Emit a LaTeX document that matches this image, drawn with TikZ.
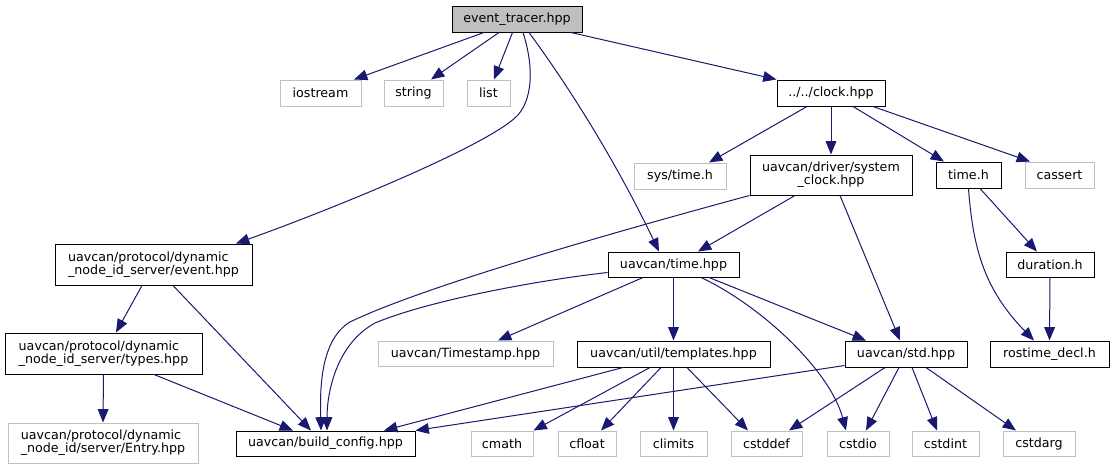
\documentclass[tikz,border=0pt]{standalone}
\usepackage{fontspec}
\setmainfont{DejaVu Sans}
\usetikzlibrary{arrows.meta,calc}
\definecolor{edgeblue}{HTML}{191970}
\definecolor{lgray}{HTML}{BFBFBF}
\newcommand{\mybox}[7]{\node[#6, minimum width={(#4-#2)*0.75pt}, minimum height={(#5-#3)*0.75pt}] (#1) at ({(#2+#4)/2},{(#3+#5)/2}) {#7};}
\begin{document}
\begin{tikzpicture}[x=0.75pt,y=-0.75pt, font=\fontsize{9.5}{10}\selectfont,
 docbox/.style={draw=black, fill=white, inner sep=0pt, line width=0.75pt},
 extbox/.style={draw=lgray, fill=white, inner sep=0pt, line width=0.75pt},
 curbox/.style={draw=black, fill=lgray, inner sep=0pt, line width=0.75pt},
 depedge/.style={draw=edgeblue, line width=0.75pt, -{Triangle[length=10pt,width=8pt]}}]
\fill[white] (0,0) rectangle (1115,469);
\useasboundingbox (0,0) rectangle (1115,469);
\mybox{et}{452}{6}{582}{32}{curbox}{event\_tracer.hpp}
\mybox{iostream}{280}{80}{361}{106}{extbox}{iostream}
\mybox{string}{384}{80}{443}{106}{extbox}{string}
\mybox{list}{467}{80}{510}{106}{extbox}{list}
\mybox{clock}{777}{80}{885}{106}{docbox}{../../clock.hpp}
\mybox{systime}{634}{163}{726}{189}{extbox}{sys/time.h}
\mybox{sysclock}{750}{155}{912}{195}{docbox,align=center}{uavcan/driver/system\\\_clock.hpp}
\mybox{timeh}{936}{162}{1001}{188}{docbox}{time.h}
\mybox{cassert}{1025}{162}{1094}{188}{extbox}{cassert}
\mybox{evhpp}{55}{244}{252}{285}{docbox,align=left}{uavcan/protocol/dynamic\\\_node\_id\_server/event.hpp}
\mybox{utime}{608}{252}{739}{277}{docbox}{uavcan/time.hpp}
\mybox{duration}{1006}{252}{1094}{277}{docbox}{duration.h}
\mybox{types}{5}{333}{202}{374}{docbox,align=left}{uavcan/protocol/dynamic\\\_node\_id\_server/types.hpp}
\mybox{Timestamp}{378}{341}{553}{366}{extbox}{uavcan/Timestamp.hpp}
\mybox{templates}{577}{341}{770}{367}{docbox}{uavcan/util/templates.hpp}
\mybox{std}{845}{341}{967}{367}{docbox}{uavcan/std.hpp}
\mybox{rostime}{990}{341}{1109}{367}{docbox}{rostime\_decl.h}
\mybox{Entry}{8}{423}{198}{463}{extbox,align=left}{uavcan/protocol/dynamic\\\_node\_id/server/Entry.hpp}
\mybox{build}{236}{431}{415}{456}{docbox}{uavcan/build\_config.hpp}
\mybox{cmath}{471}{431}{533}{456}{extbox}{cmath}
\mybox{cfloat}{558}{431}{616}{456}{extbox}{cfloat}
\mybox{climits}{640}{431}{707}{456}{extbox}{climits}
\mybox{cstddef}{731}{431}{802}{456}{extbox}{cstddef}
\mybox{cstdio}{827}{431}{889}{456}{extbox}{cstdio}
\mybox{cstdint}{912}{431}{979}{456}{extbox}{cstdint}
\mybox{cstdarg}{1003}{431}{1075}{456}{extbox}{cstdarg}
% event_tracer
\draw[depedge] ($(et.south)+(-33,0)$) -- ($(iostream.north)+(33.5,0)$);
\draw[depedge] ($(et.south)+(-18,0)$) -- ($(string.north)+(17.5,0)$);
\draw[depedge] ($(et.south)+(-4.5,0)$) -- ($(list.north)+(5.5,0)$);
\draw[depedge] ($(et.south)+(6,0)$) .. controls (532,60) and (535,95) .. (518,115) .. controls (490,145) and (330,210) .. ($(evhpp.north)+(82.5,0)$);
\draw[depedge] ($(et.south)+(12,0)$) .. controls (575,95) and (620,170) .. ($(utime.north)+(-14.5,0)$);
\draw[depedge] ($(et.south)+(54,0)$) -- (clock.north west);
% clock
\draw[depedge] ($(clock.south)+(-24,0)$) -- ($(systime.north)+(29,0)$);
\draw[depedge] (clock.south) -- (sysclock.north);
\draw[depedge] ($(clock.south)+(22,0)$) -- ($(timeh.north)+(-24.5,0)$);
\draw[depedge] ($(clock.south)+(42,0)$) -- ($(cassert.north)+(-29.5,0)$);
% system clock
\draw[depedge] (sysclock.south west) .. controls (600,236) and (420,288) .. (350,322) .. controls (320,340) and (320,390) .. ($(build.north)+(-4.5,0)$);
\draw[depedge] ($(sysclock.south)+(-36,0)$) -- ($(utime.north)+(24.5,0)$);
\draw[depedge] ($(sysclock.south)+(9,0)$) -- ($(std.north)+(-6,0)$);
% time.h
\draw[depedge] (timeh.south) .. controls (973,250) and (985,290) .. ($(rostime.north)+(-15.5,0)$);
\draw[depedge] ($(timeh.south)+(11.5,0)$) -- ($(duration.north)+(-13,0)$);
\draw[depedge] (duration.south) -- (rostime.north);
% event.hpp
\draw[depedge] ($(evhpp.south)+(-11.5,0)$) -- ($(types.north)+(12.5,0)$);
\draw[depedge] ($(evhpp.south)+(19.5,0)$) -- ($(build.north)+(-14.5,0)$);
% types
\draw[depedge] (types.south) -- (Entry.north);
\draw[depedge] ($(types.south)+(50.5,0)$) -- ($(build.north)+(-32.5,0)$);
% uavcan/time.hpp
\draw[depedge] ($(utime.south west)+(0,-5)$) .. controls (540,280) and (430,300) .. (375,323) .. controls (335,345) and (327,395) .. ($(build.north)+(1.5,0)$);
\draw[depedge] ($(utime.south)+(-30.5,0)$) -- ($(Timestamp.north)+(32.5,0)$);
\draw[depedge] (utime.south) -- (templates.north);
\draw[depedge] ($(utime.south)+(27.5,0)$) .. controls (760,305) and (830,370) .. ($(cstdio.north)+(-12,0)$);
\draw[depedge] ($(utime.south)+(35.5,0)$) -- ($(std.north)+(-40,0)$);
% templates
\draw[depedge] ($(templates.south)+(-50.5,0)$) -- ($(build.north)+(58.5,0)$);
\draw[depedge] ($(templates.south)+(-23.5,0)$) -- (cmath.north east);
\draw[depedge] ($(templates.south)+(-12.5,0)$) -- ($(cfloat.north)+(14,0)$);
\draw[depedge] (templates.south) -- (climits.north);
\draw[depedge] ($(templates.south)+(13.5,0)$) -- ($(cstddef.north)+(-18.5,0)$);
% std
\draw[depedge] ($(std.south west)+(0,-2)$) -- (build.north east);
\draw[depedge] ($(std.south)+(-21,0)$) -- ($(cstddef.north)+(22.5,0)$);
\draw[depedge] ($(std.south)+(-7,0)$) -- ($(cstdio.north)+(8,0)$);
\draw[depedge] ($(std.south)+(6,0)$) -- ($(cstdint.north)+(-8.5,0)$);
\draw[depedge] ($(std.south)+(20,0)$) -- ($(cstdarg.north)+(-23,0)$);
\end{tikzpicture}
\end{document}
